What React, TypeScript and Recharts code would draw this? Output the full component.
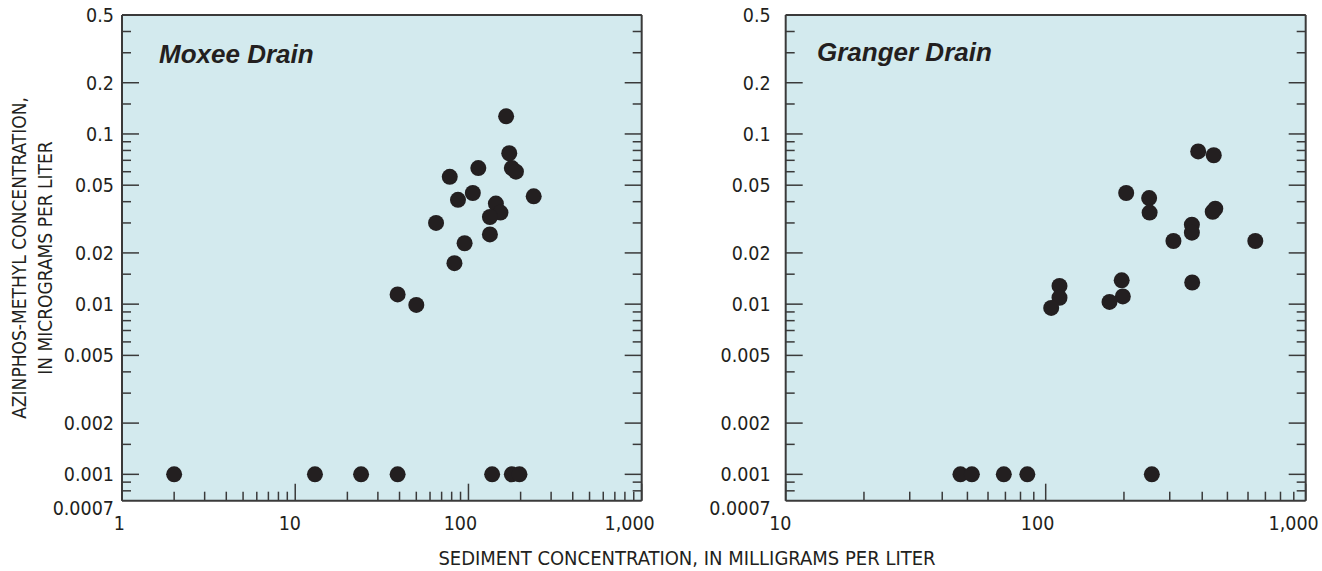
import React from "react";
import { ScatterChart, Scatter, XAxis, YAxis, CartesianGrid } from "recharts";

// Moxee Drain: sediment (mg/L) vs azinphos-methyl (ug/L); 0.001 = below reporting level
const moxeeSediment = [165, 172, 178, 188, 114, 78, 106, 87, 238, 144, 153, 133, 65, 133, 95, 83, 39, 50, 2.0, 13, 24, 39, 137, 178, 197];
const moxeeAzinphos = [0.127, 0.077, 0.063, 0.06, 0.063, 0.056, 0.045, 0.041, 0.043, 0.039, 0.0345, 0.0325, 0.03, 0.0257, 0.0228, 0.0174, 0.0114, 0.0099, 0.001, 0.001, 0.001, 0.001, 0.001, 0.001, 0.001];

// Granger Drain
const grangerSediment = [386, 443, 204, 250, 251, 449, 439, 365, 365, 310, 640, 366, 196, 198, 176, 113, 113, 105, 47, 52, 69, 85, 256];
const grangerAzinphos = [0.079, 0.075, 0.045, 0.042, 0.0345, 0.0364, 0.0349, 0.0293, 0.0263, 0.0235, 0.0235, 0.0134, 0.0138, 0.0111, 0.0103, 0.0128, 0.0109, 0.0095, 0.001, 0.001, 0.001, 0.001, 0.001];

// tick values
const yTicks = [0.0007, 0.0008, 0.0009, 0.001, 0.0015, 0.002, 0.003, 0.004, 0.005, 0.006, 0.007, 0.008, 0.009, 0.01, 0.015, 0.02, 0.03, 0.04, 0.05, 0.06, 0.07, 0.08, 0.09, 0.1, 0.15, 0.2, 0.3, 0.4, 0.5];
const yLabels = [0.0007, 0.001, 0.002, 0.005, 0.01, 0.02, 0.05, 0.1, 0.2, 0.5];
const moxeeXTicks = [1, 2, 3, 4, 5, 6, 7, 8, 9, 10, 20, 30, 40, 50, 60, 70, 80, 90, 100, 200, 300, 400, 500, 600, 700, 800, 900, 1000];
const grangerXTicks = [10, 20, 30, 40, 50, 60, 70, 80, 90, 100, 200, 300, 400, 500, 600, 700, 800, 900, 1000];
const moxeeXLabels = [1, 10, 100, 1000];
const grangerXLabels = [10, 100, 1000];

const FONT = "'Liberation Sans Narrow', 'Arial Narrow', 'DejaVu Sans Condensed', sans-serif";
const INK = "#231f20";
const LINE = "#3a3a3a";
const PANEL_FILL = "#d3eaee";
const H = 571;
const PLOT_TOP = 15;
const PLOT_BOTTOM = 500.7;

const fmtX = (v: number) => v.toLocaleString("en-US");

const isMajor = (v: number, labels: number[]) => labels.includes(v);

const xTick = (side: "bottom" | "top", labels: number[]) => (p: any) => {
  const v = p.payload.value;
  const len = isMajor(v, labels) ? 17 : 9;
  const dir = side === "bottom" ? -1 : 1;
  const text = fmtX(v);
  const w = text.replace(",", "").length * 9 + (text.includes(",") ? 4 : 0);
  return (
    <g>
      <line x1={p.x} x2={p.x} y1={p.y} y2={p.y + dir * len} stroke={LINE} strokeWidth={1.5} />
      {side === "bottom" && labels.includes(v) ? (
        <text x={p.x - w * 0.3} y={p.y + 29} textAnchor="middle" fontFamily={FONT} fontSize={19.5} fill={INK}>
          {text}
        </text>
      ) : null}
    </g>
  );
};

const yTick = (side: "left" | "right", gap: number) => (p: any) => {
  const v = p.payload.value;
  const len = isMajor(v, yLabels) ? 17 : 9;
  const dir = side === "left" ? 1 : -1;
  return (
    <g>
      {v !== 0.0007 ? (
        <line x1={p.x} x2={p.x + dir * len} y1={p.y} y2={p.y} stroke={LINE} strokeWidth={1.5} />
      ) : null}
      {side === "left" && yLabels.includes(v) ? (
        <text x={p.x - gap} y={p.y + (v === 0.0007 ? 14 : 7)} textAnchor="end" fontFamily={FONT} fontSize={19.5} fill={INK}>
          {String(v)}
        </text>
      ) : null}
    </g>
  );
};

const dot = (p: any) => <circle cx={p.cx} cy={p.cy} r={8} fill={INK} />;

type PanelProps = {
  sediment: number[];
  azinphos: number[];
  xTicks: number[];
  xLabels: number[];
  xDomain: [number, number];
  left: number;
  leftWidth: number;
  plotRight: number;
  rightWidth: number;
  labelGap: number;
  name: string;
  nameX: number;
  nameY: number;
};

const Panel = ({ sediment, azinphos, xTicks, xLabels, xDomain, left, leftWidth, plotRight, rightWidth, labelGap, name, nameX, nameY }: PanelProps) => {
  const data = sediment.map((s, i) => ({ s, a: azinphos[i] }));
  const width = plotRight - left + rightWidth;
  const axisLine = { stroke: LINE, strokeWidth: 2 };
  return (
    <div style={{ position: "absolute", left, top: 0 }}>
      <ScatterChart width={width} height={H} margin={{ top: 0, right: 0, bottom: 0, left: 0 }}>
        <CartesianGrid xAxisId="b" yAxisId="l" horizontal={false} vertical={false} fill={PANEL_FILL} />
        <XAxis
          xAxisId="b"
          dataKey="s"
          type="number"
          scale="log"
          domain={xDomain}
          allowDataOverflow
          ticks={xTicks}
          interval={0}
          height={H - PLOT_BOTTOM}
          tickSize={0}
          tickMargin={0}
          tickLine={false}
          axisLine={axisLine}
          tick={xTick("bottom", xLabels)}
        />
        <XAxis
          xAxisId="t"
          orientation="top"
          type="number"
          scale="log"
          domain={xDomain}
          allowDataOverflow
          ticks={xTicks}
          interval={0}
          height={PLOT_TOP}
          tickSize={0}
          tickMargin={0}
          tickLine={false}
          axisLine={axisLine}
          tick={xTick("top", xLabels)}
        />
        <YAxis
          yAxisId="l"
          dataKey="a"
          type="number"
          scale="log"
          domain={[0.0007, 0.5]}
          allowDataOverflow
          ticks={yTicks}
          interval={0}
          width={leftWidth}
          tickSize={0}
          tickMargin={0}
          tickLine={false}
          axisLine={axisLine}
          tick={yTick("left", labelGap)}
        />
        <YAxis
          yAxisId="r"
          orientation="right"
          type="number"
          scale="log"
          domain={[0.0007, 0.5]}
          allowDataOverflow
          ticks={yTicks}
          interval={0}
          width={rightWidth}
          tickSize={0}
          tickMargin={0}
          tickLine={false}
          axisLine={axisLine}
          tick={yTick("right", 0)}
        />
        <Scatter xAxisId="b" yAxisId="l" data={data} isAnimationActive={false} shape={dot} />
      </ScatterChart>
      <svg width={width} height={H} style={{ position: "absolute", left: 0, top: 0, pointerEvents: "none" }}>
        <text
          x={nameX - left}
          y={nameY}
          fontFamily="'Liberation Sans', Arial, sans-serif"
          fontWeight="bold"
          fontStyle="italic"
          fontSize={26}
          fill={INK}
        >
          {name}
        </text>
      </svg>
    </div>
  );
};

export default function App() {
  return (
    <div style={{ position: "absolute", left: 0, top: 0, width: 1322, height: H, background: "#fff" }}>
      <Panel
        sediment={moxeeSediment}
        azinphos={moxeeAzinphos}
        xTicks={moxeeXTicks}
        xLabels={moxeeXLabels}
        xDomain={[1, 1000]}
        left={0}
        leftWidth={122}
        plotRight={641.7}
        rightWidth={30}
        labelGap={8}
        name="Moxee Drain"
        nameX={159}
        nameY={63}
      />
      <Panel
        sediment={grangerSediment}
        azinphos={grangerAzinphos}
        xTicks={grangerXTicks}
        xLabels={grangerXLabels}
        xDomain={[10, 1000]}
        left={660}
        leftWidth={125.7}
        plotRight={1305.7}
        rightWidth={16}
        labelGap={15}
        name="Granger Drain"
        nameX={817}
        nameY={61}
      />
      <svg width={1322} height={H} style={{ position: "absolute", left: 0, top: 0, pointerEvents: "none" }}>
        <g fontFamily={FONT} fontSize={19} fill={INK} textAnchor="middle">
          <text transform="translate(26,258) rotate(-90)">AZINPHOS-METHYL CONCENTRATION,</text>
          <text transform="translate(52,258) rotate(-90)">IN MICROGRAMS PER LITER</text>
          <text x={687} y={565} fontSize={20}>SEDIMENT CONCENTRATION, IN MILLIGRAMS PER LITER</text>
        </g>
      </svg>
    </div>
  );
}
